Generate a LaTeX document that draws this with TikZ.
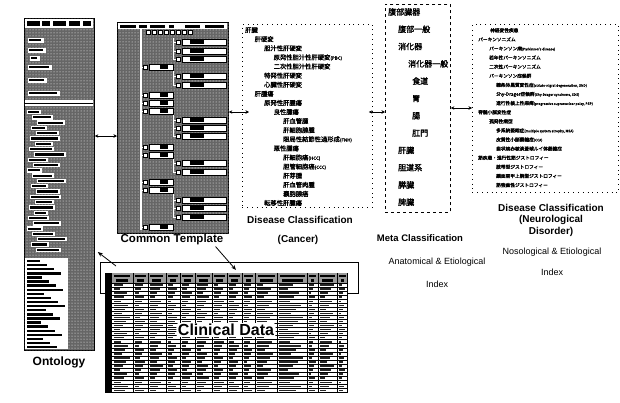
\documentclass[tikz,border=0pt]{standalone}
\usepackage{fontspec}
\setmainfont{Liberation Sans}
\newfontfamily\cjk{Noto Sans CJK JP}[AutoFakeBold=2]
\usetikzlibrary{patterns,arrows.meta,calc}
\begin{document}
\begin{tikzpicture}[x=1pt,y=-1pt,
  noise/.style={fill=black!60, postaction={pattern=dots, pattern color=white}},
  wbox/.style={fill=white, draw=black, line width=0.4pt},
  dbl/.style={{Stealth[length=3.5pt,width=3.5pt]}-{Stealth[length=3.5pt,width=3.5pt]}, line width=0.8pt},
  sarrow/.style={-{Stealth[length=5pt,width=4pt]}, line width=0.8pt},
  lbl/.style={font=\bfseries\fontsize{10}{11.5}\selectfont, inner sep=0, align=center},
  idx/.style={font=\fontsize{9}{10}\selectfont, inner sep=0},
  dotbox/.style={draw=black, loosely dotted, line width=0.9pt},
  panel/.style={draw=black, line width=0.8pt, inner sep=0, anchor=north west},
]
\useasboundingbox (0,0) rectangle (620,402);

% ---------------- Ontology bar ----------------
\node[panel, noise, minimum width=70, minimum height=332] (onto) at (24,18) {};
\fill[white] (25,19) rectangle (93,28);
\foreach \a/\b in {27/40,42/50,53/66,69/80,83/91} \fill[black] (\a,21) rectangle (\b,26);
\foreach \yy/\xa/\xb in {40/28/44,50/28/46,58/30/40,67/28/52,80/28/47,93/28/60}{
  \fill[white] (\xa,\yy-2.5) rectangle (\xb,\yy+2.5);
  \fill[black] (\xa+1,\yy-1.2) rectangle (\xb-3,\yy+1.2);}
\fill[white] (25,100) rectangle (93,106);
\draw[black,line width=0.6pt] (25,103) -- (93,103);
\foreach \i in {0,...,26}{
  \pgfmathsetmacro\yy{112+5.3*\i}
  \pgfmathsetmacro\xa{27+mod(\i*5,11)}
  \pgfmathsetmacro\xb{\xa+14+mod(\i*7,19)}
  \fill[white] (\xa,\yy-2.2) rectangle (\xb,\yy+2.2);
  \fill[black] (\xa+1,\yy-1.1) rectangle (\xb-2,\yy+1.1);}
\fill[white] (25,258) rectangle (68,349);
\foreach \i in {0,...,21}{
  \pgfmathsetmacro\yy{261+4.1*\i}
  \pgfmathsetmacro\xb{40+mod(\i*7,26)}
  \fill[black] (27,\yy-1.2) rectangle (\xb,\yy+1.2);}
\node[font=\bfseries\fontsize{12}{13}\selectfont, inner sep=0] (ontolabel) at (59,362) {Ontology};

% ---------------- Common template ----------------
\node[panel, noise, minimum width=111, minimum height=211] (tmpl) at (117,22) {};
\fill[white] (118,23) rectangle (227,29);
\foreach \a/\b in {120/136,139/147,150/165,169/174,185/200,205/224} \fill[black] (\a,24.5) rectangle (\b,27.5);
\fill[white] (139.5,29) rectangle (141.5,230);
\foreach \x in {146,152,158,164,170,176,182,188} \draw[wbox] (\x,30) rectangle ++(4,4);
\foreach \ya/\yb in {38/59,70/85,114/136,158/172,194/217} \fill[white] (172.5,\ya) rectangle (174,\yb);
\foreach \yy in {42,51,59,76,85,120,128,136,163,172,200,208,217}{
  \fill[white] (173,\yy-0.4) rectangle (177,\yy+0.4);
  \draw[wbox] (176,\yy-2.2) rectangle (180.5,\yy+2.2);
  \draw[wbox] (182,\yy-3) rectangle (226,\yy+3);
  \fill[black] (190,\yy-1.6) rectangle (204,\yy+1.6);}
\foreach \yy in {67,95,103,111,147,155,182,190,227}{
  \fill[white] (140,\yy-0.4) rectangle (144,\yy+0.4);
  \draw[wbox] (143,\yy-2.2) rectangle (147.5,\yy+2.2);
  \draw[wbox] (149,\yy-3) rectangle (173,\yy+3);
  \fill[black] (160,\yy-1.6) rectangle (168,\yy+1.6);}
\node[font=\bfseries\fontsize{11.5}{12}\selectfont, inner sep=0] (tlabel) at (172,240) {Common Template};

% ---------------- Disease classification (cancer) ----------------
\node[dotbox, panel, minimum width=130, minimum height=183] (cancer) at (242,24) {};
\node[anchor=north west, align=left, inner sep=0, font=\cjk\bfseries\fontsize{6.3}{9.1}\selectfont] (clist) at (245,27) {%
肝臓\\
\hspace*{9.5pt}肝硬変\\
\hspace*{19pt}胆汁性肝硬変\\
\hspace*{28.5pt}原発性胆汁性肝硬変{\fontsize{4.5}{5}\selectfont(PBC)}\\
\hspace*{28.5pt}二次性胆汁性肝硬変\\
\hspace*{19pt}特発性肝硬変\\
\hspace*{19pt}心臓性肝硬変\\
\hspace*{9.5pt}肝腫瘍\\
\hspace*{19pt}原発性肝腫瘍\\
\hspace*{28.5pt}良性腫瘍\\
\hspace*{38pt}肝血管腫\\
\hspace*{38pt}肝細胞腺腫\\
\hspace*{38pt}限局性結節性過形成{\fontsize{4.5}{5}\selectfont(FNH)}\\
\hspace*{28.5pt}悪性腫瘍\\
\hspace*{38pt}肝細胞癌{\fontsize{4.5}{5}\selectfont(HCC)}\\
\hspace*{38pt}胆管細胞癌{\fontsize{4.5}{5}\selectfont(CCC)}\\
\hspace*{38pt}肝芽腫\\
\hspace*{38pt}肝血管肉腫\\
\hspace*{38pt}嚢胞腺癌\\
\hspace*{19pt}転移性肝腫瘍};
\node[lbl] (clabel) at (300,220) {Disease Classification};
\node[lbl] (clabel2) at (298,240) {(Cancer)};

% ---------------- Meta classification ----------------
\node[panel, dashed, minimum width=65, minimum height=208] (meta) at (385,4) {};
\node[anchor=north west, align=left, inner sep=0, font=\cjk\bfseries\fontsize{8}{17.3}\selectfont] (mlist) at (388,8) {%
腹部臓器\\
\hspace*{10pt}腹部一般\\
\hspace*{10pt}消化器\\
\hspace*{20pt}消化器一般\\
\hspace*{24pt}食道\\
\hspace*{24pt}胃\\
\hspace*{24pt}腸\\
\hspace*{24pt}肛門\\
\hspace*{10pt}肝臓\\
\hspace*{10pt}胆道系\\
\hspace*{10pt}膵臓\\
\hspace*{10pt}脾臓};
\node[lbl, font=\bfseries\fontsize{9.5}{11}\selectfont] (mlabel) at (420,238) {Meta Classification};
\node[idx] (alabel) at (437,262) {Anatomical \& Etiological};
\node[idx] (alabel2) at (437,284) {Index};

% ---------------- Disease classification (neuro) ----------------
\node[dotbox, panel, minimum width=146, minimum height=168] (neuro) at (472,24) {};
\node[anchor=north west, align=left, inner sep=0, font=\cjk\bfseries\fontsize{4.7}{9.1}\selectfont] (nlist) at (478,28) {%
\hspace*{12pt}神経変性疾患\\
パーキンソニズム\\
\hspace*{11pt}パーキンソン病{\fontsize{3.4}{4}\selectfont(Parkinson's disease)}\\
\hspace*{11pt}若年性パーキンソニズム\\
\hspace*{11pt}二次性パーキンソニズム\\
\hspace*{11pt}パーキンソン症候群\\
\hspace*{18pt}線条体黒質変性症{\fontsize{3.4}{4}\selectfont(striato-nigral degeneration, SND)}\\
\hspace*{18pt}Shy-Drager症候群{\fontsize{3.4}{4}\selectfont(Shy-Drager syndrome, SDS)}\\
\hspace*{18pt}進行性核上性麻痺{\fontsize{3.4}{4}\selectfont(progressive supranuclear palsy, PSP)}\\
脊髄小脳変性症\\
\hspace*{11pt}孤発性病型\\
\hspace*{18pt}多系統萎縮症{\fontsize{3.4}{4}\selectfont(multiple system atrophy, MSA)}\\
\hspace*{18pt}皮質性小脳萎縮症{\fontsize{3.4}{4}\selectfont(CCA)}\\
\hspace*{18pt}歯状核赤核淡蒼球ルイ体萎縮症\\
筋疾患・進行性筋ジストロフィー\\
\hspace*{18pt}肢帯型ジストロフィー\\
\hspace*{18pt}顔面肩甲上腕型ジストロフィー\\
\hspace*{18pt}筋強直性ジストロフィー};
\node[lbl] (nlabel) at (551,220) {Disease Classification\\(Neurological\\Disorder)};
\node[idx] (blabel) at (552,252) {Nosological \& Etiological};
\node[idx] (blabel2) at (552,272) {Index};

% ---------------- Clinical data ----------------
\node[panel, fill=white, minimum width=258, minimum height=31] (frame) at (100,262) {};
\node[panel, line width=0.6pt, fill=white, minimum width=242, minimum height=119] (grid) at (105,273) {};
\fill[black!40] (112,273) rectangle (347,283);
\foreach \a/\b in {114/130,135/146,150/163,168/178,182/193,197/210,214/225,229/240,244/253,258/275,280/305,309/316,320/335,339/346}{
  \fill[black] (\a,274.5) rectangle (\b,277);
  \fill[black] (\a+2,279) rectangle (\b-2,281.5);}
\fill[black] (105,273) rectangle (112,392);
\foreach \r in {0,...,26}{
  \pgfmathsetmacro\yy{283+4.05*\r}
  \draw[line width=0.6pt] (112,\yy) -- (347,\yy);
  \foreach \a/\b [count=\c] in {112/133,133/148,148/166,166/180,180/195,195/212,212/227,227/242,242/255,255/277,277/307,307/318,318/337,337/347}{
    \pgfmathsetmacro\len{(\b-\a-3)*(0.35+0.6*mod(\r*7+\c*13,10)/10)}
    \fill[black!85] (\a+1.5,\yy+1.3) rectangle (\a+1.5+\len,\yy+2.8);}}
\foreach \x in {133,148,166,180,195,212,227,242,255,277,307,318,337} \draw[line width=0.8pt] (\x,273) -- (\x,392);
\node[font=\bfseries\fontsize{16}{17}\selectfont, fill=white, rounded corners=2pt, inner xsep=1.5pt, inner ysep=1pt] (cdata) at (226,330) {Clinical Data};

% ---------------- Connectors ----------------
\draw[dbl] (onto.east |- 0,136) -- (tmpl.west |- 0,136);
\draw[dbl] (tmpl.east |- 0,112) -- ($(cancer.west |- 0,112)+(7,0)$);
\draw[dbl] ($(cancer.east |- 0,112)+(-4,0)$) -- (meta.west |- 0,112);
\draw[dbl] (meta.east |- 0,108) -- (neuro.west |- 0,108);
\coordinate (fa) at (116,266);
\draw[sarrow] (fa) -- ($(onto.east |- 0,252)+(3,0)$);
\coordinate (gh) at (236,270);
\draw[sarrow] ($(tlabel.south east)+(-8,1)$) -- (gh);
\end{tikzpicture}
\end{document}
